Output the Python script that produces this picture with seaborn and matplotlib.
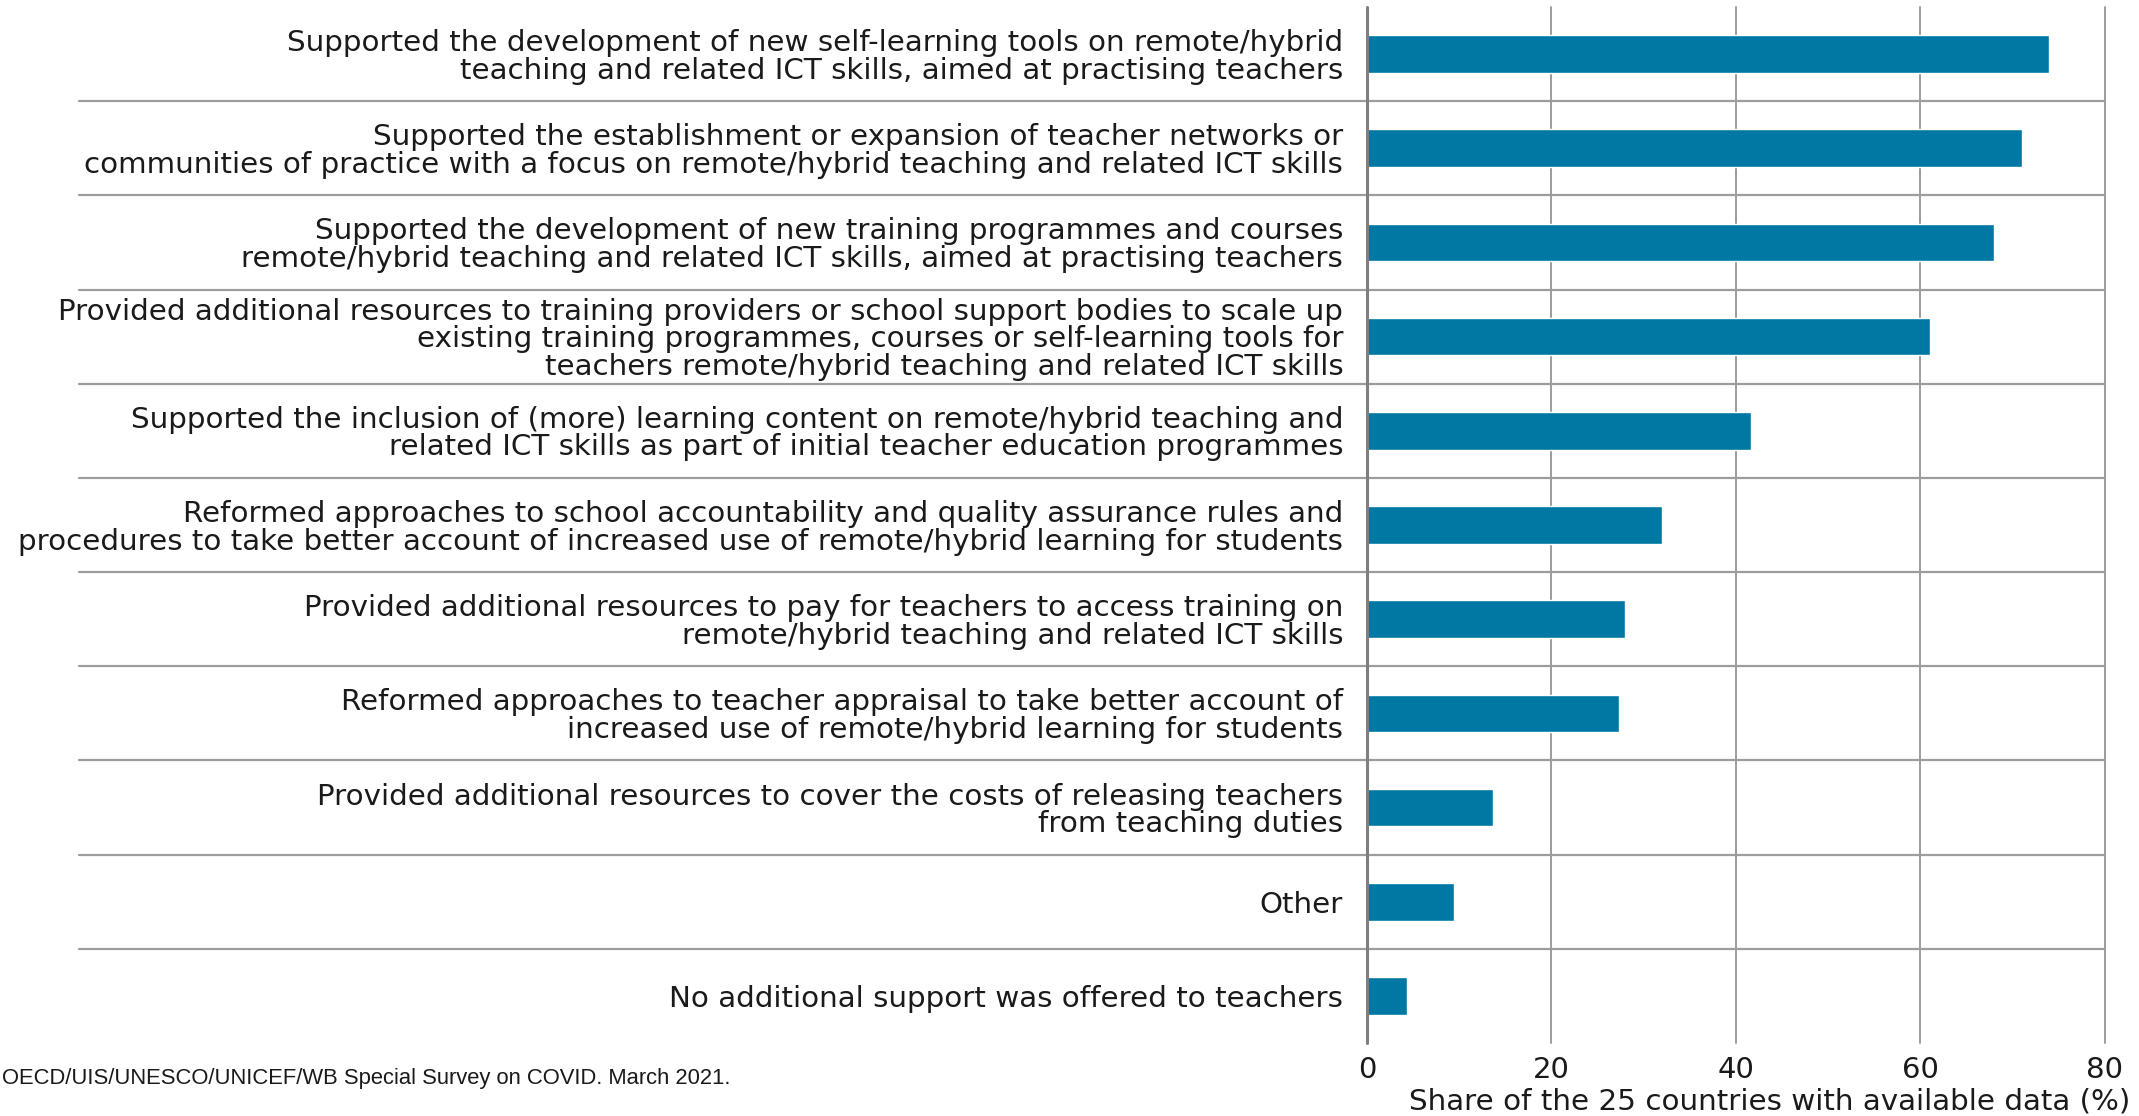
import matplotlib
matplotlib.use("Agg")
import matplotlib.pyplot as plt
import seaborn as sns
import pandas as pd

# Measures taken by countries to support teachers (share of countries, %)
measures = [
    "Supported the development of new self-learning tools on remote/hybrid\n"
    "teaching and related ICT skills, aimed at practising teachers",
    "Supported the establishment or expansion of teacher networks or\n"
    "communities of practice with a focus on remote/hybrid teaching and related ICT skills",
    "Supported the development of new training programmes and courses\n"
    "remote/hybrid teaching and related ICT skills, aimed at practising teachers",
    "Provided additional resources to training providers or school support bodies to scale up\n"
    "existing training programmes, courses or self-learning tools for\n"
    "teachers remote/hybrid teaching and related ICT skills",
    "Supported the inclusion of (more) learning content on remote/hybrid teaching and\n"
    "related ICT skills as part of initial teacher education programmes",
    "Reformed approaches to school accountability and quality assurance rules and\n"
    "procedures to take better account of increased use of remote/hybrid learning for students",
    "Provided additional resources to pay for teachers to access training on\n"
    "remote/hybrid teaching and related ICT skills",
    "Reformed approaches to teacher appraisal to take better account of\n"
    "increased use of remote/hybrid learning for students",
    "Provided additional resources to cover the costs of releasing teachers\n"
    "from teaching duties",
    "Other",
    "No additional support was offered to teachers",
]
shares = [74, 71, 68, 61, 41.7, 32, 28, 27.3, 13.7, 9.5, 4.4]
x_ticks = [0, 20, 40, 60, 80]
x_label = "Share of the 25 countries with available data (%)"
source_note = "OECD/UIS/UNESCO/UNICEF/WB Special Survey on COVID. March 2021."

df = pd.DataFrame({"measure": measures, "share": shares})

sns.set_theme(style="white")
plt.rcParams["font.family"] = ["DejaVu Sans"]

BAR = "#0078a3"
GRID = "#9c9c9c"
TEXT = "#1a1a1a"

fig = plt.figure(figsize=(21.39, 11.16), dpi=100)
ax = fig.add_axes([0.639, 0.0654, 0.345, 0.9283])

sns.barplot(data=df, y="measure", x="share", orient="h", color=BAR,
            width=0.4, saturation=1, ax=ax, zorder=3)

ax.set_xlim(0, 80)
ax.set_ylim(len(measures) - 0.5, -0.5)
for s in ax.spines.values():
    s.set_visible(False)

# vertical reference lines
for v in x_ticks[1:]:
    ax.axvline(v, color=GRID, lw=1.4, zorder=1, clip_on=False)
ax.axvline(0, color="#7f7f7f", lw=2.2, zorder=4, clip_on=False)

# row separators running under the labels
for i in range(len(measures) - 1):
    ax.axhline(i + 0.5, xmin=-1.745, xmax=1.0, color=GRID, lw=1.6,
               zorder=1, clip_on=False)

ax.set_xticks(x_ticks)
ax.set_xticklabels([str(t) for t in x_ticks], fontsize=21, color=TEXT)
ax.tick_params(axis="x", length=0, pad=9)
ax.tick_params(axis="y", length=0, pad=17)
for lab in ax.get_yticklabels():
    lab.set_fontsize(21.2)
    lab.set_color(TEXT)
    lab.set_multialignment("right")
    lab.set_linespacing(0.98)

ax.set_ylabel("")
ax.set_xlabel(x_label, fontsize=21.2, color=TEXT, va="center")
ax.xaxis.set_label_coords(0.546, -0.056)

fig.text(2 / 2139, 0.034, source_note, ha="left", va="center",
         fontsize=15.8, color=TEXT,
         family=["Liberation Sans Narrow", "Liberation Sans", "DejaVu Sans"])

fig.savefig("out.png", dpi=100, facecolor="white")
